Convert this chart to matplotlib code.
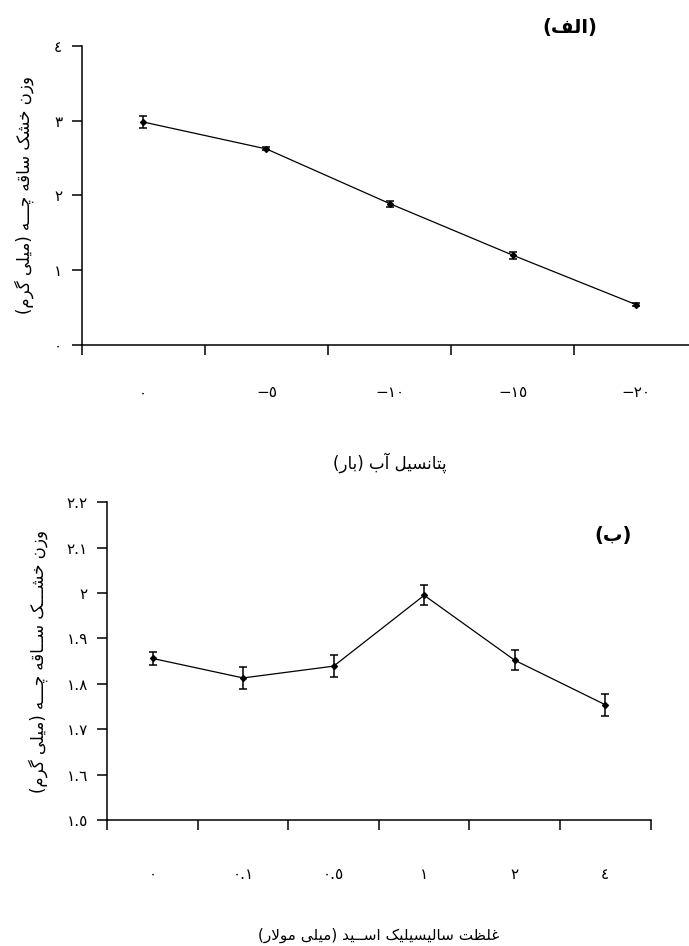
import numpy as np
import matplotlib
matplotlib.use('Agg')
import matplotlib.pyplot as plt

# data
wp_labels = ['٠', '−٥', '−١٠', '−١٥', '−٢٠']          # water potential (bar)
dw_a = [2.98, 2.62, 1.89, 1.20, 0.54]
err_a = [0.08, 0.02, 0.04, 0.045, 0.025]
ya_ticks = [0, 1, 2, 3, 4]
ya_labels = ['٠', '١', '٢', '٣', '٤']

sa_labels = ['٠', '٠.١', '٠.٥', '١', '٢', '٤']       # salicylic acid (mM)
dw_b = [1.856, 1.813, 1.839, 1.995, 1.852, 1.754]
err_b = [0.015, 0.025, 0.024, 0.022, 0.022, 0.024]
yb_ticks = [1.5, 1.6, 1.7, 1.8, 1.9, 2.0, 2.1, 2.2]
yb_labels = ['١.٥', '١.٦', '١.٧', '١.٨', '١.٩', '٢', '٢.١', '٢.٢']

ylabel_a = 'وزن خشک ساقه چـــه (میلی گرم)'
ylabel_b = 'وزن خشـــک ســاقه چـــه (میلی گرم)'
xlabel_a = 'پتانسیل آب (بار)'
xlabel_b = 'غلظت سالیسیلیک اســید (میلی مولار)'
title_a = '(الف)'
title_b = '(ب)'

# matplotlib has no arabic shaping, so pick the presentation forms by hand
# isolated, final, initial, medial
FORMS = {
    'ا': ('\uFE8D', '\uFE8E'), 'آ': ('\uFE81', '\uFE82'),
    'د': ('\uFEA9', '\uFEAA'), 'ر': ('\uFEAD', '\uFEAE'),
    'ز': ('\uFEAF', '\uFEB0'), 'و': ('\uFEED', '\uFEEE'),
    'ب': ('\uFE8F', '\uFE90', '\uFE91', '\uFE92'),
    'ت': ('\uFE95', '\uFE96', '\uFE97', '\uFE98'),
    'خ': ('\uFEA5', '\uFEA6', '\uFEA7', '\uFEA8'),
    'س': ('\uFEB1', '\uFEB2', '\uFEB3', '\uFEB4'),
    'ش': ('\uFEB5', '\uFEB6', '\uFEB7', '\uFEB8'),
    'ظ': ('\uFEC5', '\uFEC6', '\uFEC7', '\uFEC8'),
    'غ': ('\uFECD', '\uFECE', '\uFECF', '\uFED0'),
    'ف': ('\uFED1', '\uFED2', '\uFED3', '\uFED4'),
    'ق': ('\uFED5', '\uFED6', '\uFED7', '\uFED8'),
    'ل': ('\uFEDD', '\uFEDE', '\uFEDF', '\uFEE0'),
    'م': ('\uFEE1', '\uFEE2', '\uFEE3', '\uFEE4'),
    'ن': ('\uFEE5', '\uFEE6', '\uFEE7', '\uFEE8'),
    'ه': ('\uFEE9', '\uFEEA', '\uFEEB', '\uFEEC'),
    'پ': ('\uFB56', '\uFB57', '\uFB58', '\uFB59'),
    'چ': ('\uFB7A', '\uFB7B', '\uFB7C', '\uFB7D'),
    'ک': ('\uFB8E', '\uFB8F', '\uFB90', '\uFB91'),
    'گ': ('\uFB92', '\uFB93', '\uFB94', '\uFB95'),
    'ی': ('\uFBFC', '\uFBFD', '\uFBFE', '\uFBFF'),
    'ـ': ('ـ', 'ـ', 'ـ', 'ـ'),
}
LAM_ALEF = {'ا': ('\uFEFB', '\uFEFC'), 'آ': ('\uFEF5', '\uFEF6')}


def fa(text):
    out = []
    i = 0
    n = len(text)
    while i < n:
        c = text[i]
        if c not in FORMS:
            out.append(c)
            i += 1
            continue
        prev = text[i-1] if i > 0 else None
        link_prev = prev in FORMS and len(FORMS[prev]) == 4
        if c == 'ل' and i+1 < n and text[i+1] in LAM_ALEF:
            lig = LAM_ALEF[text[i+1]]
            out.append(lig[1] if link_prev else lig[0])
            i += 2
            continue
        nxt = text[i+1] if i+1 < n else None
        link_next = len(FORMS[c]) == 4 and nxt in FORMS
        f = FORMS[c]
        if link_prev and link_next:
            out.append(f[3])
        elif link_prev:
            out.append(f[1])
        elif link_next:
            out.append(f[2])
        else:
            out.append(f[0])
        i += 1
    mirror = {'(': ')', ')': '('}
    return ''.join(mirror.get(c, c) for c in reversed(out))


plt.rcParams['font.family'] = ['DejaVu Sans']
W, H = 689, 946
fig = plt.figure(figsize=(W/100, H/100), dpi=100)


def setup(ax, n, labels, yticks, ylabels, pad_x):
    for s in ['top', 'right']:
        ax.spines[s].set_visible(False)
    for s in ['left', 'bottom']:
        ax.spines[s].set_linewidth(1.1)
    ax.set_xlim(-0.5, n - 0.5)
    ax.set_xticks(range(n))
    ax.set_xticklabels(labels, fontsize=11)
    ax.set_xticks(np.arange(-0.5, n), minor=True)
    ax.tick_params(axis='x', which='major', length=0, pad=pad_x)
    ax.tick_params(axis='x', which='minor', length=7, width=1.1, direction='out')
    ax.set_yticks(yticks)
    ax.set_yticklabels(ylabels, fontsize=11)
    ax.tick_params(axis='y', length=7, width=1.1, direction='out', pad=7)


# (a) water potential
ax1 = fig.add_axes([81.7/W, 1 - 345/H, 615.9/W, 299.3/H])
x = np.arange(len(dw_a))
ax1.errorbar(x, dw_a, yerr=err_a, color='black', lw=0.9, marker='D', ms=3,
             capsize=3, elinewidth=1.1, capthick=1.1)
ax1.set_ylim(0, 4)
setup(ax1, len(dw_a), wp_labels, ya_ticks, ya_labels, 29)
ax1.set_ylabel(fa(ylabel_a), fontsize=12)
ax1.yaxis.set_label_coords(-0.078, 0.5)
ax1.set_xlabel(fa(xlabel_a), fontsize=12)
ax1.xaxis.set_label_coords(0.5, -0.36)
fig.text(570/W, 1 - 27/H, fa(title_a), fontsize=14, fontweight='bold',
         ha='center', va='center')

# (b) salicylic acid
ax2 = fig.add_axes([107.3/W, 1 - 820/H, 543.2/W, 317.7/H])
x = np.arange(len(dw_b))
ax2.errorbar(x, dw_b, yerr=err_b, color='black', lw=0.9, marker='D', ms=3,
             capsize=3, elinewidth=1.1, capthick=1.1)
ax2.set_ylim(1.5, 2.2)
setup(ax2, len(dw_b), sa_labels, yb_ticks, yb_labels, 34)
ax2.set_ylabel(fa(ylabel_b), fontsize=12)
ax2.yaxis.set_label_coords(-0.11, 0.5)
ax2.set_xlabel(fa(xlabel_b), fontsize=11)
ax2.xaxis.set_label_coords(0.5, -0.338)
fig.text(613/W, 1 - 536/H, fa(title_b), fontsize=14, fontweight='bold',
         ha='center', va='center')

fig.savefig('out.png', dpi=100)
